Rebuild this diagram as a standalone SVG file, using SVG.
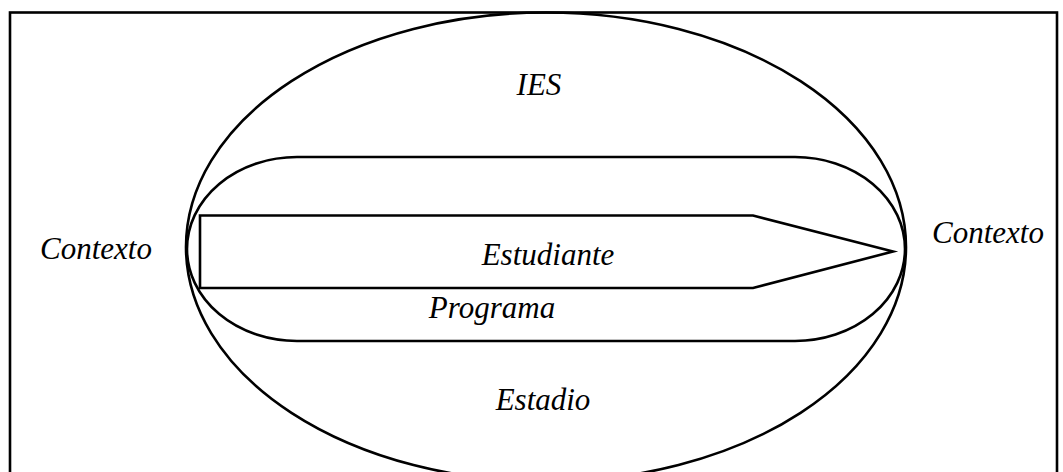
<svg xmlns="http://www.w3.org/2000/svg" width="1063" height="472" viewBox="0 0 1063 472">
<style>
.s{fill:none;stroke:#000;stroke-width:2.6}
.t{font-family:"Liberation Serif","Times New Roman",serif;font-style:italic;font-size:31px;fill:#000}
</style>
<rect width="1063" height="472" fill="#fff"/>
<g id="frame"><rect class="s" x="10" y="12.5" width="1047" height="480"/></g>
<g id="ies"><ellipse class="s" cx="546" cy="247" rx="360" ry="234.5"/></g>
<g id="programa"><rect class="s" x="187" y="157" width="718" height="184" rx="110" ry="92"/></g>
<g id="estudiante"><polygon class="s" points="200,215.5 753,215.5 893,251.5 753,288 200,288"/></g>
<g id="connectors"></g>
<g id="labels">
<text class="t" x="539" y="95" text-anchor="middle">IES</text>
<text class="t" x="40" y="259">Contexto</text>
<text class="t" x="932" y="243">Contexto</text>
<text class="t" x="548" y="265" text-anchor="middle">Estudiante</text>
<text class="t" x="492" y="318" text-anchor="middle">Programa</text>
<text class="t" x="543" y="410" text-anchor="middle">Estadio</text>
</g>
</svg>
